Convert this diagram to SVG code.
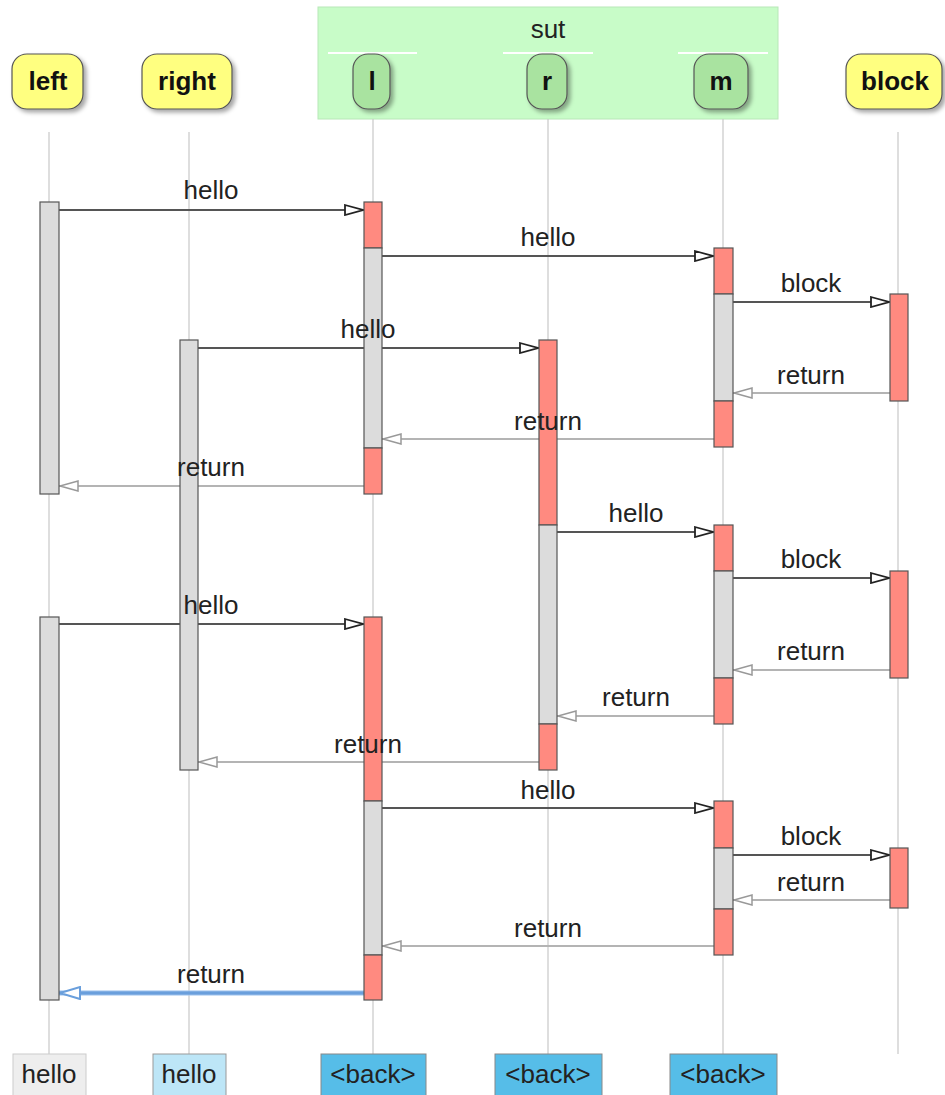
<svg xmlns="http://www.w3.org/2000/svg" width="945" height="1095" viewBox="0 0 945 1095">
<style>
text{font-family:"Liberation Sans",Arial,sans-serif;font-size:26px;fill:#222;}
.hd{font-weight:bold;text-anchor:middle;fill:#111;}
.lbl{text-anchor:middle;}
.life{stroke:#c8c8c8;stroke-width:1.2;fill:none;}
.yel{fill:#ffff80;stroke:#555;stroke-width:1.2;}
.grn{fill:#a9e3a0;stroke:#555;stroke-width:1.2;}
.act{stroke:#555;stroke-width:1.2;}
.red{fill:#ff8a80;}
.gry{fill:#dcdcdc;}
.call{stroke:#555;stroke-width:2.2;fill:none;marker-end:url(#ah);}
.ret{stroke:#b4b4b4;stroke-width:2.2;fill:none;marker-end:url(#rh);}
</style>
<defs>
<filter id="sh" x="-20%" y="-20%" width="150%" height="150%">
<feDropShadow dx="3" dy="3" stdDeviation="2" flood-color="#000" flood-opacity="0.35"/>
</filter>
<marker id="ah" viewBox="0 0 20 12" refX="20" refY="6" markerWidth="20" markerHeight="12" markerUnits="userSpaceOnUse" orient="auto">
<path d="M1,1 L19,6 L1,11 Z" fill="#fff" stroke="#222" stroke-width="1.8"/>
</marker>
<marker id="rh" viewBox="0 0 20 12" refX="20" refY="6" markerWidth="20" markerHeight="12" markerUnits="userSpaceOnUse" orient="auto">
<path d="M1,1 L19,6 L1,11 Z" fill="#fff" stroke="#999" stroke-width="1.5"/>
</marker>
<marker id="bh" viewBox="0 0 22 14" refX="22" refY="7" markerWidth="22" markerHeight="14" markerUnits="userSpaceOnUse" orient="auto">
<path d="M1,1 L21,7 L1,13 Z" fill="#fff" stroke="#6a9fdc" stroke-width="2"/>
</marker>
</defs>
<rect width="945" height="1095" fill="#fff"/>

<g id="sut">
<rect x="318" y="7" width="460" height="112" fill="#c8fcc8" stroke="#b8e8b8" stroke-width="1"/>
<text x="548" y="38" class="lbl">sut</text>
<line x1="328" y1="53" x2="417" y2="53" stroke="#fff" stroke-width="2"/>
<line x1="503" y1="53" x2="593" y2="53" stroke="#fff" stroke-width="2"/>
<line x1="678" y1="53" x2="768" y2="53" stroke="#fff" stroke-width="2"/>
</g>

<g id="lifelines">
<line class="life" x1="49" y1="132" x2="49" y2="1054"/>
<line class="life" x1="189" y1="132" x2="189" y2="1054"/>
<line class="life" x1="373" y1="119" x2="373" y2="1054"/>
<line class="life" x1="548" y1="119" x2="548" y2="1054"/>
<line class="life" x1="723" y1="119" x2="723" y2="1054"/>
<line class="life" x1="898" y1="132" x2="898" y2="1054"/>
</g>

<g id="node-left"><rect class="yel" x="12" y="54" width="71" height="55" rx="15" filter="url(#sh)"/><text class="hd" x="48" y="90">left</text></g>
<g id="node-right"><rect class="yel" x="142" y="54" width="90" height="55" rx="15" filter="url(#sh)"/><text class="hd" x="187" y="90">right</text></g>
<g id="node-l"><rect class="grn" x="353" y="54" width="37" height="55" rx="15" filter="url(#sh)"/><text class="hd" x="372" y="90">l</text></g>
<g id="node-r"><rect class="grn" x="527" y="54" width="40" height="55" rx="15" filter="url(#sh)"/><text class="hd" x="547" y="90">r</text></g>
<g id="node-m"><rect class="grn" x="694" y="54" width="54" height="55" rx="15" filter="url(#sh)"/><text class="hd" x="721" y="90">m</text></g>
<g id="node-block"><rect class="yel" x="846" y="54" width="96" height="55" rx="15" filter="url(#sh)"/><text class="hd" x="895" y="90">block</text></g>

<g id="connectors">
<line class="call" x1="59" y1="210" x2="364" y2="210"/>
<line class="call" x1="382" y1="256" x2="714" y2="256"/>
<line class="call" x1="733" y1="302" x2="890" y2="302"/>
<line class="call" x1="198" y1="348" x2="539" y2="348"/>
<line class="ret" x1="890" y1="393" x2="733" y2="393"/>
<line class="ret" x1="714" y1="439" x2="382" y2="439"/>
<line class="ret" x1="364" y1="486" x2="59" y2="486"/>
<line class="call" x1="557" y1="532" x2="714" y2="532"/>
<line class="call" x1="733" y1="578" x2="890" y2="578"/>
<line class="call" x1="59" y1="624" x2="364" y2="624"/>
<line class="ret" x1="890" y1="670" x2="733" y2="670"/>
<line class="ret" x1="714" y1="716" x2="557" y2="716"/>
<line class="ret" x1="539" y1="762" x2="198" y2="762"/>
<line class="call" x1="382" y1="808" x2="714" y2="808"/>
<line class="call" x1="733" y1="855" x2="890" y2="855"/>
<line class="ret" x1="890" y1="900" x2="733" y2="900"/>
<line class="ret" x1="714" y1="946" x2="382" y2="946"/>
<line x1="364" y1="993" x2="59" y2="993" stroke="#a9c9f0" stroke-width="6" stroke-opacity="0.6"/>
<line x1="364" y1="993" x2="59" y2="993" stroke="#6a9fdc" stroke-width="3.5" marker-end="url(#bh)"/>
</g>

<g id="activations">
<rect class="act gry" x="40" y="202" width="19" height="292"/>
<rect class="act gry" x="40" y="617" width="19" height="383"/>
<rect class="act gry" x="180" y="340" width="18" height="430"/>
<rect class="act red" x="364" y="202" width="18" height="46"/>
<rect class="act gry" x="364" y="248" width="18" height="200"/>
<rect class="act red" x="364" y="448" width="18" height="46"/>
<rect class="act red" x="364" y="617" width="18" height="184"/>
<rect class="act gry" x="364" y="801" width="18" height="154"/>
<rect class="act red" x="364" y="955" width="18" height="45"/>
<rect class="act red" x="539" y="340" width="18" height="185"/>
<rect class="act gry" x="539" y="525" width="18" height="199"/>
<rect class="act red" x="539" y="724" width="18" height="46"/>
<rect class="act red" x="714" y="248" width="19" height="46"/>
<rect class="act gry" x="714" y="294" width="19" height="107"/>
<rect class="act red" x="714" y="401" width="19" height="46"/>
<rect class="act red" x="714" y="525" width="19" height="46"/>
<rect class="act gry" x="714" y="571" width="19" height="107"/>
<rect class="act red" x="714" y="678" width="19" height="46"/>
<rect class="act red" x="714" y="801" width="19" height="47"/>
<rect class="act gry" x="714" y="848" width="19" height="61"/>
<rect class="act red" x="714" y="909" width="19" height="46"/>
<rect class="act red" x="890" y="294" width="18" height="107"/>
<rect class="act red" x="890" y="571" width="18" height="107"/>
<rect class="act red" x="890" y="848" width="18" height="60"/>
</g>

<g id="labels">
<text class="lbl" x="211" y="199">hello</text>
<text class="lbl" x="548" y="246">hello</text>
<text class="lbl" x="811" y="292">block</text>
<text class="lbl" x="368" y="338">hello</text>
<text class="lbl" x="811" y="384">return</text>
<text class="lbl" x="548" y="430">return</text>
<text class="lbl" x="211" y="476">return</text>
<text class="lbl" x="636" y="522">hello</text>
<text class="lbl" x="811" y="568">block</text>
<text class="lbl" x="211" y="614">hello</text>
<text class="lbl" x="811" y="660">return</text>
<text class="lbl" x="636" y="706">return</text>
<text class="lbl" x="368" y="753">return</text>
<text class="lbl" x="548" y="799">hello</text>
<text class="lbl" x="811" y="845">block</text>
<text class="lbl" x="811" y="891">return</text>
<text class="lbl" x="548" y="937">return</text>
<text class="lbl" x="211" y="983">return</text>
</g>

<g id="foot-left"><rect x="13" y="1054" width="73" height="45" fill="#eeeeee" stroke="#ccc"/><text class="lbl" x="49" y="1083">hello</text></g>
<g id="foot-right"><rect x="153" y="1054" width="73" height="45" fill="#bde6f7" stroke="#999"/><text class="lbl" x="189" y="1083">hello</text></g>
<g id="foot-l"><rect x="321" y="1054" width="105" height="45" fill="#56bde8" stroke="#888"/><text class="lbl" x="373" y="1083">&lt;back&gt;</text></g>
<g id="foot-r"><rect x="495" y="1054" width="107" height="45" fill="#56bde8" stroke="#888"/><text class="lbl" x="548" y="1083">&lt;back&gt;</text></g>
<g id="foot-m"><rect x="670" y="1054" width="107" height="45" fill="#56bde8" stroke="#888"/><text class="lbl" x="723" y="1083">&lt;back&gt;</text></g>
</svg>
